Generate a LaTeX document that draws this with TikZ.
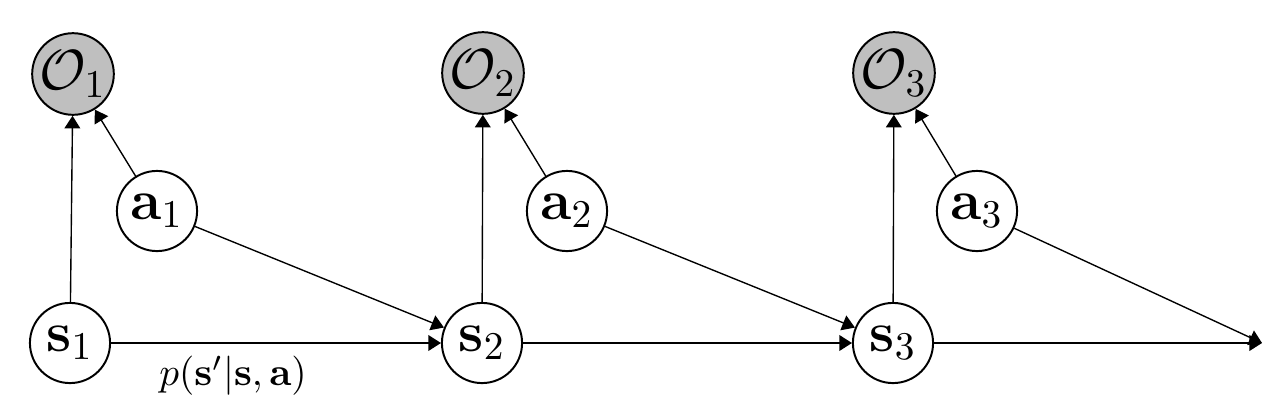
\documentclass[tikz,border=0pt]{standalone}
\usepackage{amsmath}
\usetikzlibrary{arrows.meta}
\begin{document}
\begin{tikzpicture}[x=0.2545pt,y=-0.2545pt,
  var/.style={circle,draw,line width=0.5pt,minimum size=20.4pt,inner sep=0pt,font=\Large},
  obs/.style={var,fill=black!25},
  edge/.style={-{Triangle[length=3.2pt,width=4pt]},line width=0.35pt,shorten >=0pt}]
\useasboundingbox (0,0) rectangle (1278,408);
\node[obs] (o1) at (73,74) {$\mathcal{O}_1$};
\node[obs] (o2) at (483,73) {$\mathcal{O}_2$};
\node[obs] (o3) at (894,73) {$\mathcal{O}_3$};
\node[var] (a1) at (157,211) {$\mathbf{a}_1$};
\node[var] (a2) at (567,211) {$\mathbf{a}_2$};
\node[var] (a3) at (977,211) {$\mathbf{a}_3$};
\node[var] (s1) at (70,343) {$\mathbf{s}_1$};
\node[var] (s2) at (482,343) {$\mathbf{s}_2$};
\node[var] (s3) at (893,343) {$\mathbf{s}_3$};
\coordinate (e) at (1262,343);
\node (lbl) at (233,376) {$p(\mathbf{s}'|\mathbf{s},\mathbf{a})$};
\draw[edge] (s1) -- (o1);
\draw[edge] (a1) -- (o1);
\draw[edge] (s2) -- (o2);
\draw[edge] (a2) -- (o2);
\draw[edge] (s3) -- (o3);
\draw[edge] (a3) -- (o3);
\draw[edge] (s1) -- (s2);
\draw[edge] (a1) -- (s2);
\draw[edge] (s2) -- (s3);
\draw[edge] (a2) -- (s3);
\draw[edge] (s3) -- (e);
\draw[edge] (a3) -- (e);
\end{tikzpicture}
\end{document}
